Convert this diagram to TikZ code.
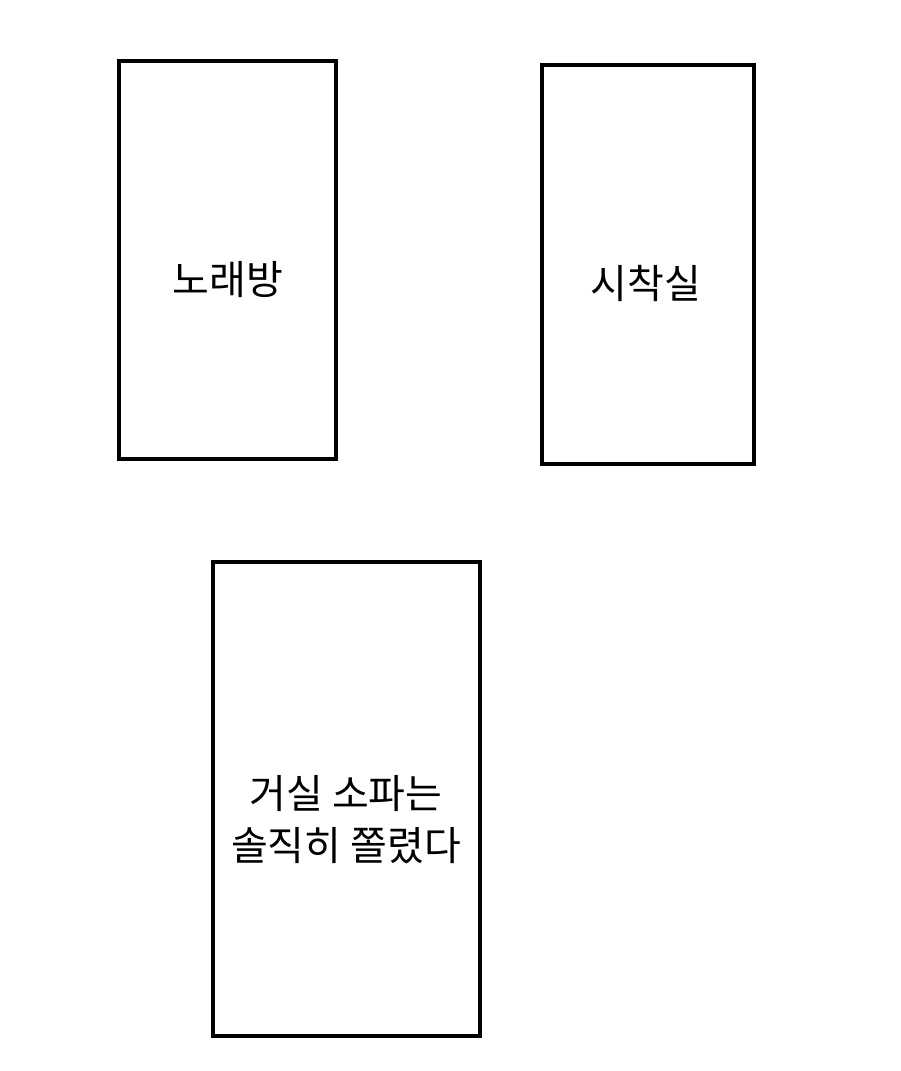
\documentclass[tikz,border=0pt]{standalone}
\usepackage{fontspec}
\newfontfamily\cjk{Noto Sans CJK KR}
\begin{document}
\begin{tikzpicture}[x=1pt,y=-1pt,
  room/.style={draw=black,line width=3.5pt,fill=white},
  label/.style={font=\cjk\fontsize{40}{52}\selectfont,align=center,inner sep=0pt}]
\useasboundingbox[fill=white] (0,0) rectangle (900,1071);
\draw[room] (119,61) rectangle (336,459);
\draw[room] (542,65) rectangle (754,464);
\draw[room] (213,562) rectangle (480,1036);
\node[label] (a) at (228,280) {노래방};
\node[label] (b) at (646,283) {시착실};
\node[label] (c) at (346,820) {거실 소파는\\솔직히 쫄렸다};
\end{tikzpicture}
\end{document}
